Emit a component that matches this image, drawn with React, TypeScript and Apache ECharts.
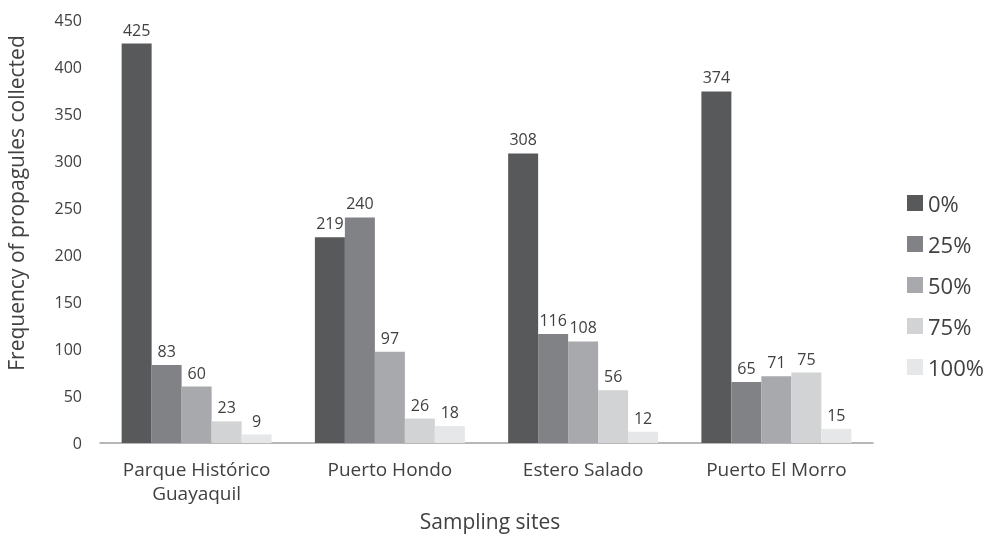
import React, { useEffect, useRef } from "react";
import * as echarts from "echarts";

const sites = ["Parque Histórico\nGuayaquil", "Puerto Hondo", "Estero Salado", "Puerto El Morro"];
const levels = ["0%", "25%", "50%", "75%", "100%"];
const v0 = [425, 219, 308, 374];
const v25 = [83, 240, 116, 65];
const v50 = [60, 97, 108, 71];
const v75 = [23, 26, 56, 75];
const v100 = [9, 18, 12, 15];
const colors = ["#58595b", "#808285", "#a7a9ac", "#d1d3d4", "#e6e7e8"];
const yTicks = [0, 50, 100, 150, 200, 250, 300, 350, 400, 450];
const xTitle = "Sampling sites";
const yTitle = "Frequency of propagules collected";

const FONT = "'Open Sans', 'Noto Sans', sans-serif";
const TXT = "#414042";

export default function App() {
  const ref = useRef<HTMLDivElement>(null);
  useEffect(() => {
    if (!ref.current) return;
    const chart = echarts.init(ref.current, undefined, { renderer: "svg" });
    const all = [v0, v25, v50, v75, v100];
    chart.setOption({
      animation: false,
      textStyle: { fontFamily: FONT },
      grid: { left: 100, right: 112, top: 20, bottom: 98, containLabel: false },
      legend: {
        orient: "vertical",
        left: 902,
        top: 187,
        itemWidth: 16,
        itemHeight: 16,
        itemGap: 19,
        icon: "rect",
        data: levels,
        textStyle: { fontSize: 22, lineHeight: 22, color: TXT, fontFamily: FONT },
      },
      graphic: [
        {
          type: "text",
          x: 490,
          y: 521,
          style: {
            text: xTitle,
            fontSize: 21,
            fontFamily: FONT,
            fill: TXT,
            textAlign: "center",
            textVerticalAlign: "middle",
          },
        },
        {
          type: "text",
          x: 16,
          y: 203,
          rotation: Math.PI / 2,
          style: {
            text: yTitle,
            fontSize: 21,
            fontFamily: FONT,
            fill: TXT,
            textAlign: "center",
            textVerticalAlign: "middle",
          },
        },
      ],
      xAxis: {
        type: "category",
        data: sites,
        axisLine: { lineStyle: { color: "#a0a0a0", width: 1.5 } },
        axisTick: { show: false },
        axisLabel: { fontSize: 19, color: TXT, lineHeight: 24, margin: 14 },
      },
      yAxis: {
        type: "value",
        min: yTicks[0],
        max: yTicks[yTicks.length - 1],
        interval: 50,
        splitLine: { show: false },
        axisLine: { show: false },
        axisTick: { show: false },
        axisLabel: { fontSize: 16, color: TXT, margin: 18 },
      },
      series: levels.map((name, i) => ({
        name,
        type: "bar",
        data: all[i],
        barGap: "0%",
        barCategoryGap: "22.4%",
        itemStyle: { color: colors[i] },
        label: {
          show: true,
          position: "top",
          distance: 6,
          fontSize: 16,
          color: TXT,
        },
      })),
    });
    return () => chart.dispose();
  }, []);
  return (
    <div
      ref={ref}
      style={{ position: "fixed", left: 0, top: 0, width: 985, height: 541 }}
    />
  );
}
